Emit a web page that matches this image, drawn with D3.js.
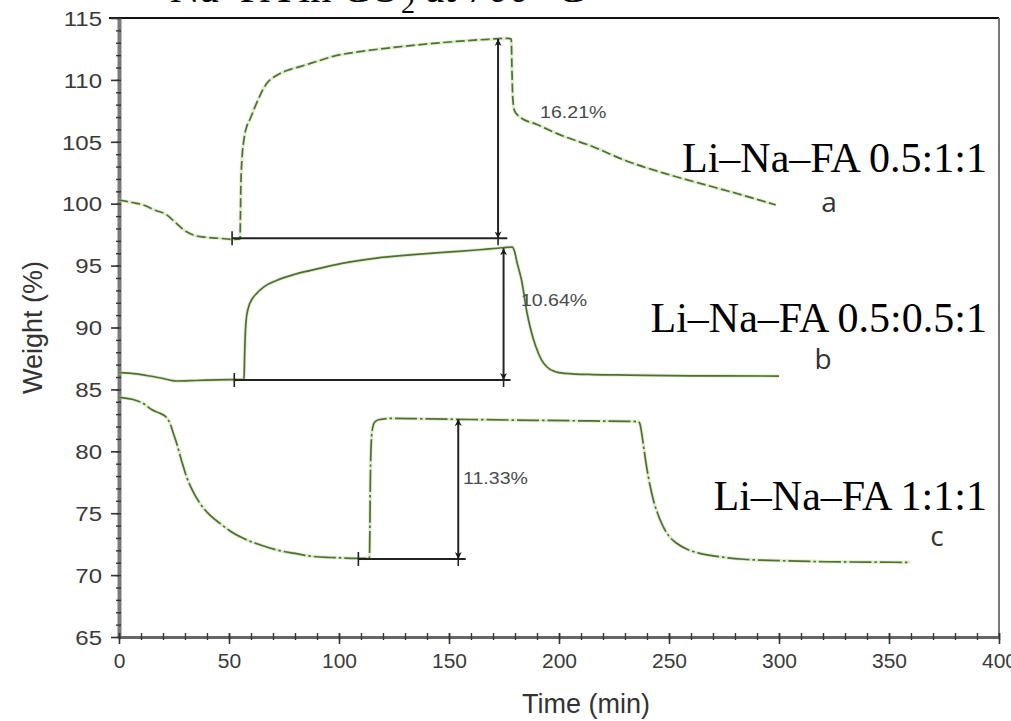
<!DOCTYPE html>
<html lang="en">
<head>
<meta charset="UTF-8">
<script src="https://cdn.jsdelivr.net/npm/d3@7"></script>
<title>TGA curves</title>
<style>
  body { margin: 0; background: #fff; }
  svg text.tick-lbl { font: 20px "Liberation Sans", Arial, sans-serif; fill: #3a3a3a; }
  .serif { font-family: "Liberation Serif", "Times New Roman", serif; fill: #000; }
  .pct { font: 17px "Liberation Sans", Arial, sans-serif; fill: #4a4a4a; }
  .letter { font: 28px "Open Sans", "DejaVu Sans", sans-serif; fill: #333; }
  .axis-title { font: 27px "Liberation Sans", Arial, sans-serif; fill: #333; }
</style>
</head>
<body>
<div id="chart"></div>
<script>
// time (min), weight (%)
const curveA = [[0,100.3],[6,100.1],[11,99.9],[16,99.5],[21.7,99.1],[25,98.6],[27.7,98.14],[30.5,97.75],[33.8,97.47],[39,97.3],[45.9,97.2],[52,97.12],[55,97.15],
  [55.2,99],[55.4,101.5],[55.9,103.6],[56.8,105.2],[58,106.2],[59.5,106.8],[62,107.9],[64.5,108.9],[67.1,109.7],[72,110.4],[77,110.8],[82.3,111.07],[90,111.5],[97.3,111.9],
  [112.6,112.36],[127.7,112.68],[142.9,112.95],[158,113.17],[168,113.28],[176.8,113.36],[178.3,113.3],[178.6,111],[179,108.5],[179.8,107.5],[182.3,107.0],[190,106.4],
  [200,105.6],[215.5,104.6],[230,103.5],[248,102.45],[265,101.6],[280.5,100.84],[290,100.35],[298.5,99.9]];
const curveB = [[0,86.35],[8,86.25],[14,86.08],[20,85.88],[26.2,85.68],[35,85.72],[45,85.77],[56.8,85.8],[57,87],[57.3,89],[57.8,90.6],[58.8,91.6],[60.5,92.3],[62.6,92.76],
  [66,93.3],[71.6,93.8],[80,94.3],[86.8,94.6],[101.9,95.2],[117,95.6],[132.3,95.86],[147.4,96.07],[162.6,96.26],[172,96.4],[178.8,96.5],[179.7,96.2],[181,95.2],[183,93.8],
  [185.5,91.15],[187.5,89.6],[189.5,88.45],[192,87.4],[194.4,86.83],[198,86.45],[202.5,86.3],[215,86.2],[231.8,86.16],[260,86.1],[300,86.08]];
const curveC = [[0,84.36],[6,84.2],[11,83.87],[15,83.35],[18.6,83.07],[21.5,82.75],[23.2,82.26],[24.8,81.4],[26.2,80.65],[28.5,79.2],[30.7,77.95],[33.5,76.8],[36.8,75.8],
  [41,74.9],[45.9,74.18],[51,73.5],[56.5,72.97],[64,72.45],[71.7,72.03],[80,71.75],[86.8,71.54],[97,71.42],[108,71.35],[113.8,71.35],[114,73],[114.2,77],[114.5,80],
  [115.1,81.7],[116.2,82.35],[118,82.55],[124.7,82.66],[140,82.62],[160,82.57],[190,82.5],[215,82.45],[236,82.4],[236.8,82.2],[237.6,81.45],[238.6,80.2],[239.8,78.76],
  [241.3,77.3],[242.9,76.07],[245,74.9],[247.4,73.9],[250,73.15],[253.5,72.57],[258,72.1],[264,71.76],[273,71.48],[283.8,71.28],[300,71.17],[321.6,71.08],[340,71.05],[359.5,71.03]];

const seriesNames = ["Li–Na–FA 0.5:1:1", "Li–Na–FA 0.5:0.5:1", "Li–Na–FA 1:1:1"];
const seriesLetters = ["a", "b", "c"];
const gainLabels = ["16.21%", "10.64%", "11.33%"];

// double arrows: time, low weight, high weight
const arrowT = [172.3, 174.8, 154.2];
const arrowLow = [97.2, 85.76, 71.3];
const arrowHigh = [113.3, 96.4, 82.6];
// base lines: start time (tick), end time
const baseStart = [51.4, 52.4, 108.8];
const baseEnd = [176.5, 178, 157.6];

const xTicks = [0, 50, 100, 150, 200, 250, 300, 350, 400];
const yTicks = [65, 70, 75, 80, 85, 90, 95, 100, 105, 110, 115];

// annotation anchors [time, weight]
const gainPos = [[191.4, 107.33], [182.7, 92.2], [156.4, 77.84]];
const namePos = [[394.5, 102.56], [394.5, 89.64], [394.5, 75.26]];
const letterPos = [[322.7, 100.2], [320, 87.5], [371.8, 73.2]];

const W = 1011, H = 721;
const margin = {top: 18, right: 12, bottom: 84, left: 119};

const svg = d3.select("#chart").append("svg").attr("width", W).attr("height", H);

const x = d3.scaleLinear().domain([0, 400]).range([margin.left, W - margin.right]);
const y = d3.scaleLinear().domain([65, 115]).range([H - margin.bottom, margin.top]);

// widen a text horizontally (the source image is a bit stretched)
function stretch(sel, k) {
  sel.each(function () {
    const w = this.getComputedTextLength();
    d3.select(this).attr("textLength", w * k).attr("lengthAdjust", "spacingAndGlyphs");
  });
}

// heading, cut off at the top of the picture
svg.append("text").attr("class", "serif").attr("x", 400).attr("y", 2)
  .attr("text-anchor", "end").style("font-size", "42px").text("Na–FA in CO");
svg.append("text").attr("class", "serif").attr("x", 401).attr("y", 2)
  .style("font-size", "42px")
  .call(t => {
    t.append("tspan").attr("dy", 11).style("font-size", "28px").text("2");
    t.append("tspan").attr("dy", -11).text(" at 700 °C");
  });

const defs = svg.append("defs");
defs.append("marker").attr("id", "ah").attr("viewBox", "0 0 10 10")
  .attr("refX", 10).attr("refY", 5).attr("markerWidth", 13).attr("markerHeight", 7)
  .attr("markerUnits", "userSpaceOnUse").attr("orient", "auto-start-reverse")
  .append("path").attr("d", "M0,0 L10,5 L0,10 L3,5 Z").attr("fill", "#1a1a1a");

// frame
svg.append("line").attr("x1", x(0) - 10).attr("x2", x(400)).attr("y1", y(115)).attr("y2", y(115))
  .attr("stroke", "#111").attr("stroke-width", 2);
svg.append("line").attr("x1", x(400)).attr("x2", x(400)).attr("y1", y(115)).attr("y2", y(65))
  .attr("stroke", "#777").attr("stroke-width", 2);

// major axes
const gy = svg.append("g").attr("transform", `translate(${x(0)},0)`)
  .call(d3.axisLeft(y).tickValues(yTicks).tickSize(8).tickPadding(9).tickSizeOuter(0));
gy.select(".domain").attr("stroke", "#7a7a7a").attr("stroke-width", 4);
gy.selectAll(".tick line").attr("stroke", "#333").attr("stroke-width", 1.6);
gy.selectAll(".tick text").attr("class", "tick-lbl").attr("dy", "0.36em").call(stretch, 1.2);

const gx = svg.append("g").attr("transform", `translate(0,${y(65)})`)
  .call(d3.axisBottom(x).tickValues(xTicks).tickSize(7).tickPadding(10).tickSizeOuter(0));
gx.select(".domain").attr("stroke", "#666").attr("stroke-width", 3);
gx.selectAll(".tick line").attr("y1", -4).attr("stroke", "#333").attr("stroke-width", 1.6);
gx.selectAll(".tick text").attr("class", "tick-lbl").call(stretch, 1.05);

// minor ticks, drawn over the thick axis lines
const gyMinor = svg.append("g").attr("transform", `translate(${x(0)},0)`)
  .call(d3.axisLeft(y).tickValues(d3.range(65, 116, 1)).tickSize(3).tickFormat(""));
gyMinor.selectAll(".tick line").attr("x2", -3).attr("x1", 2).attr("stroke", "#333").attr("stroke-width", 1.4);
gyMinor.select(".domain").remove();
const gxMinor = svg.append("g").attr("transform", `translate(0,${y(65)})`)
  .call(d3.axisBottom(x).tickValues(d3.range(0, 401, 10)).tickSize(3).tickFormat(""));
gxMinor.selectAll(".tick line").attr("y1", -4).attr("y2", 3).attr("stroke", "#333").attr("stroke-width", 1.4);
gxMinor.select(".domain").remove();

svg.append("text").attr("class", "axis-title").attr("x", 586).attr("y", 713)
  .attr("text-anchor", "middle").text("Time (min)");
svg.append("text").attr("class", "axis-title")
  .attr("transform", `translate(42,${(y(65) + y(115)) / 2}) rotate(-90)`)
  .attr("text-anchor", "middle").text("Weight (%)");

// curves
const line = d3.line().curve(d3.curveMonotoneX).x(d => x(d[0])).y(d => y(d[1]));
const curves = [curveA, curveB, curveC];
const dashes = ["9,3.5", null, "22,3,2.5,3"];
curves.forEach((c, i) => {
  svg.append("path").datum(c).attr("d", line).attr("fill", "none")
    .attr("stroke", "#c6e0a8").attr("stroke-width", 3.5).attr("stroke-opacity", 0.55);
  svg.append("path").datum(c).attr("d", line).attr("fill", "none")
    .attr("stroke", "#4f6f33").attr("stroke-width", 1.7)
    .attr("stroke-dasharray", dashes[i]);
});

// baselines and arrows
arrowT.forEach((t, i) => {
  svg.append("line").attr("x1", x(baseStart[i])).attr("x2", x(baseEnd[i]))
    .attr("y1", y(arrowLow[i])).attr("y2", y(arrowLow[i]))
    .attr("stroke", "#222").attr("stroke-width", 2);
  svg.append("line").attr("x1", x(baseStart[i])).attr("x2", x(baseStart[i]))
    .attr("y1", y(arrowLow[i]) - 7).attr("y2", y(arrowLow[i]) + 7)
    .attr("stroke", "#222").attr("stroke-width", 1.6);
  svg.append("line").attr("x1", x(t)).attr("x2", x(t))
    .attr("y1", y(arrowLow[i])).attr("y2", y(arrowHigh[i]))
    .attr("stroke", "#222").attr("stroke-width", 2)
    .attr("marker-start", "url(#ah)").attr("marker-end", "url(#ah)");
  svg.append("line").attr("x1", x(t)).attr("x2", x(t))
    .attr("y1", y(arrowLow[i])).attr("y2", y(arrowLow[i]) + 7)
    .attr("stroke", "#222").attr("stroke-width", 1.6);
});

// labels
gainLabels.forEach((s, i) => {
  svg.append("text").attr("class", "pct").attr("x", x(gainPos[i][0])).attr("y", y(gainPos[i][1]))
    .attr("dominant-baseline", "central").text(s).call(stretch, 1.15);
});
seriesNames.forEach((s, i) => {
  svg.append("text").attr("class", "serif").style("font-size", "42px")
    .attr("x", x(namePos[i][0])).attr("y", y(namePos[i][1]))
    .attr("text-anchor", "end").text(s);
});
seriesLetters.forEach((s, i) => {
  svg.append("text").attr("class", "letter").attr("x", x(letterPos[i][0])).attr("y", y(letterPos[i][1]))
    .attr("text-anchor", "middle").attr("dominant-baseline", "central").text(s);
});
</script>
</body>
</html>
